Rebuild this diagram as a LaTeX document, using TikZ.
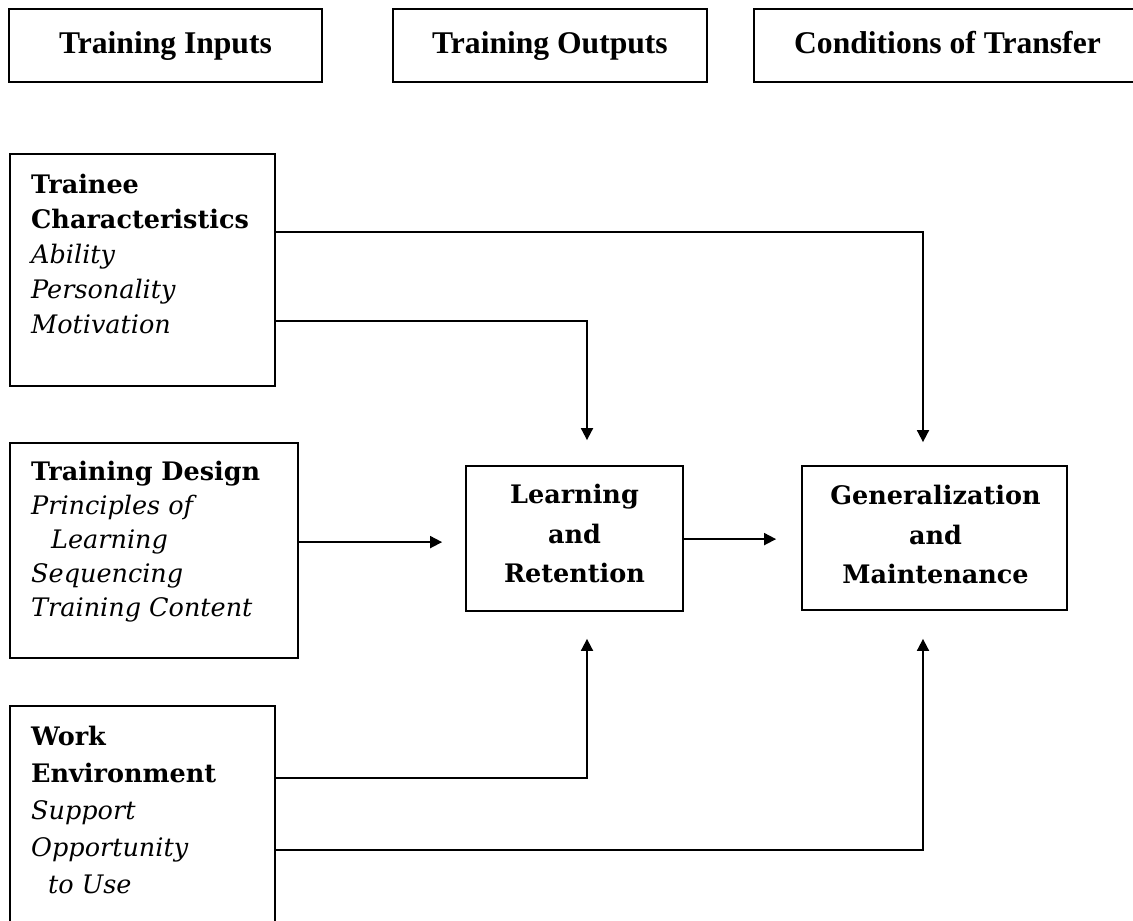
\documentclass[tikz,border=0pt]{standalone}
\usepackage{fontspec}
\newfontfamily\topfont{Liberation Serif}
\newfontfamily\boxfont{DejaVu Serif}
\usetikzlibrary{arrows.meta,calc}
\begin{document}
\begin{tikzpicture}[x=1pt,y=-1pt,
  tbox/.style={draw, line width=1.8pt, inner sep=0pt, text height=22pt, text depth=7pt, font=\topfont\bfseries\fontsize{31.6}{38}\selectfont},
  frame/.style={draw, line width=1.8pt, inner sep=0pt},
  txt/.style={anchor=north west, inner sep=0pt, align=left},
  ctxt/.style={anchor=north, inner sep=0pt, align=center, font=\boxfont\bfseries\fontsize{25.5}{39.5}\selectfont},
  conn/.style={line width=1.8pt, -{Triangle[width=12pt,length=12pt]}}
]
\useasboundingbox (0,0) rectangle (1133,921);
\fill[white] (0,0) rectangle (1133,921);

% header boxes
\node[tbox, minimum width=313pt, minimum height=73pt] (tin) at (165.5,45.5) {Training Inputs};
\node[tbox, minimum width=314pt, minimum height=73pt] (tout) at (550,45.5) {Training Outputs};
\node[tbox, minimum width=387pt, minimum height=73pt] (tcond) at (947.5,45.5) {Conditions of Transfer};

% frames
\node[frame, minimum width=265pt, minimum height=232pt] (tc) at (142.5,270) {};
\node[frame, minimum width=288pt, minimum height=215pt] (td) at (154,550.5) {};
\node[frame, minimum width=265pt, minimum height=239pt] (we) at (142.5,825.5) {};
\node[frame, minimum width=217pt, minimum height=145pt] (lr) at (574.5,538.5) {};
\node[frame, minimum width=265pt, minimum height=144pt] (gm) at (934.5,538) {};

% texts
\node[txt, font=\boxfont\fontsize{25.5}{35}\selectfont] (tctext) at (31,168.5)
  {\strut\textbf{Trainee}\\\textbf{Characteristics}\\\textit{Ability}\\\textit{Personality}\\\textit{Motivation}};
\node[txt, font=\boxfont\fontsize{25.5}{34}\selectfont] (tdtext) at (31,456.2)
  {\strut\textbf{Training Design}\\\textit{Principles of}\\\hspace*{20pt}\textit{Learning}\\\textit{Sequencing}\\\textit{Training Content}};
\node[txt, font=\boxfont\fontsize{25.5}{37}\selectfont] (wetext) at (31,719.1)
  {\strut\textbf{Work}\\\textbf{Environment}\\\textit{Support}\\\textit{Opportunity}\\\hspace*{17pt}\textit{to Use}};
\node[ctxt] (lrtext) at (574.5,476) {\strut Learning\\and\\Retention};
\node[ctxt] (gmtext) at (935.5,477) {\strut Generalization\\and\\Maintenance};

% connectors
\draw[conn, shorten >=23pt] ($(tc.north east)+(0,79)$) -| ($(gm.north)+(-11.5,0)$);
\draw[conn, shorten >=25pt] ($(tc.north east)+(0,168)$) -| ($(lr.north)+(12.5,0)$);
\draw[conn, shorten >=23pt] ($(td.north east)+(0,100)$) -- ($(lr.north west)+(0,100-23)$);
\draw[conn, shorten >=25pt] ($(lr.north east)+(0,74)$) -- ($(gm.north west)+(0,74)$);
\draw[conn, shorten >=27pt] ($(we.north east)+(0,73)$) -| ($(lr.south)+(12.5,0)$);
\draw[conn, shorten >=28pt] ($(we.north east)+(0,145)$) -| ($(gm.south)+(-11.5,0)$);
\end{tikzpicture}
\end{document}
